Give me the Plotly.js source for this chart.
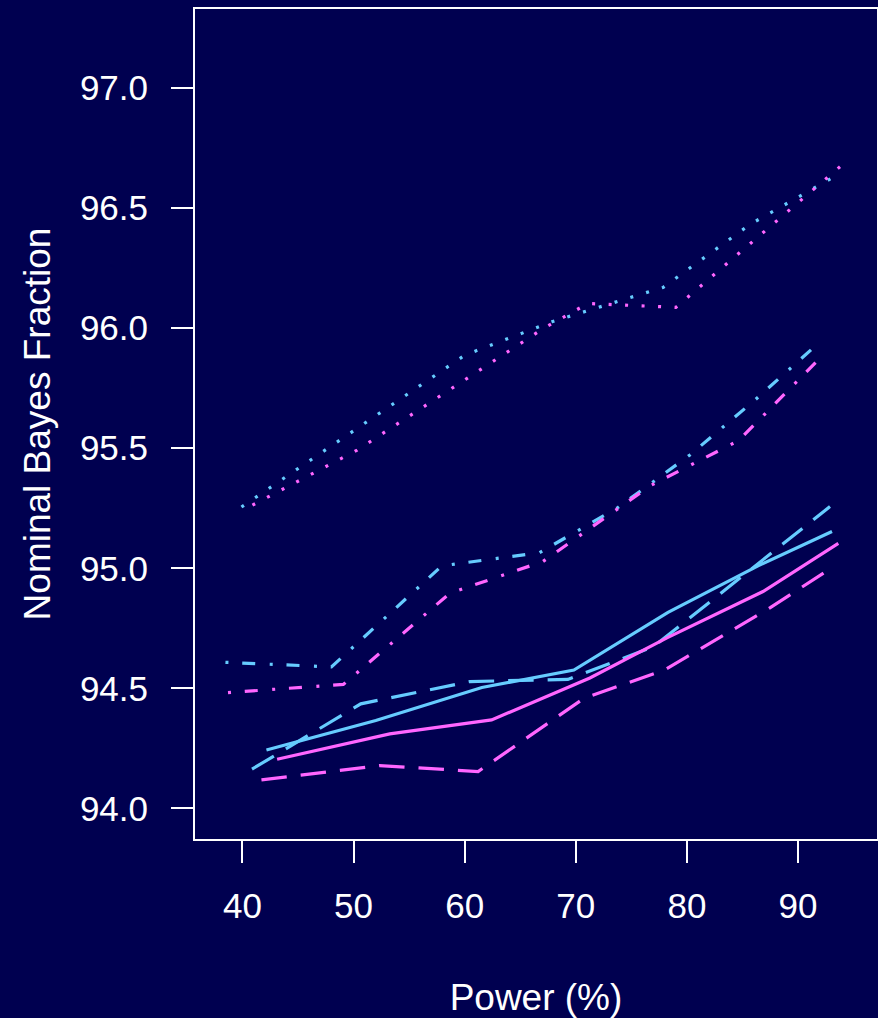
<!DOCTYPE html>
<html>
<head>
<meta charset="utf-8">
<script src="https://cdn.plot.ly/plotly-3.0.1.min.js"></script>
<style>
  html, body { margin: 0; padding: 0; background: #000050; }
  #chart { width: 878px; height: 1018px; }
</style>
</head>
<body>
<div id="chart"></div>
<script>
// Power (%) values and nominal Bayes fraction values
const cyanSolidX   = [42.16, 52.0, 61.55, 69.83, 78.3, 86.4, 93.06];
const cyanSolidY   = [94.243, 94.366, 94.503, 94.576, 94.816, 95.010, 95.153];
const magSolidX    = [43.12, 53.26, 62.42, 71.27, 78.2, 86.85, 93.63];
const magSolidY    = [94.204, 94.310, 94.368, 94.543, 94.71, 94.903, 95.104];

const cyanDashX    = [40.86, 50.65, 60.47, 69.29, 76.99, 92.88];
const cyanDashY    = [94.163, 94.435, 94.528, 94.537, 94.673, 95.257];
const magDashX     = [41.71, 52.36, 61.21, 70.73, 78.07, 87.47, 92.88];
const magDashY     = [94.118, 94.178, 94.153, 94.458, 94.578, 94.835, 94.997];

const cyanDotDashX = [38.47, 48.01, 57.95, 66.74, 73.79, 80.27, 86.13, 91.17];
const cyanDotDashY = [94.608, 94.589, 95.010, 95.065, 95.253, 95.472, 95.701, 95.910];
const magDotDashX  = [38.70, 49.08, 58.67, 67.04, 76.75, 84.66, 92.46];
const magDotDashY  = [94.482, 94.516, 94.896, 95.028, 95.345, 95.532, 95.898];

const cyanDotX     = [39.91, 60.02, 67.85, 77.85, 85.73, 93.21];
const cyanDotY     = [95.255, 95.888, 96.027, 96.170, 96.434, 96.630];
const magDotX      = [40.90, 50.32, 67.22, 71.09, 79.01, 93.93];
const magDotY      = [95.263, 95.492, 96.003, 96.103, 96.087, 96.679];

const xTicks = [40, 50, 60, 70, 80, 90];
const yTicks = [94.0, 94.5, 95.0, 95.5, 96.0, 96.5, 97.0];
const yTickText = ['94.0', '94.5', '95.0', '95.5', '96.0', '96.5', '97.0'];

const CYAN = '#66CCFF';
const MAG = '#FF66FF';
const BG = '#000050';
const FONT = '"Liberation Sans", Arial, Helvetica, sans-serif';

const DASHED = '25.5px,14px';
const DOTDASH = '3px,13.8px,13px,14.5px';
const DOTTED = '3px,13.5px';

function tr(x, y, color, dash) {
  return { x: x, y: y, type: 'scatter', mode: 'lines',
           line: { color: color, width: 3.2, dash: dash },
           hoverinfo: 'skip', showlegend: false };
}

const data = [
  tr(cyanSolidX, cyanSolidY, CYAN, 'solid'),
  tr(cyanDashX, cyanDashY, CYAN, DASHED),
  tr(cyanDotDashX, cyanDotDashY, CYAN, DOTDASH),
  tr(cyanDotX, cyanDotY, CYAN, DOTTED),
  tr(magSolidX, magSolidY, MAG, 'solid'),
  tr(magDashX, magDashY, MAG, DASHED),
  tr(magDotDashX, magDotDashY, MAG, DOTDASH),
  tr(magDotX, magDotY, MAG, DOTTED)
];

const layout = {
  width: 878, height: 1018,
  paper_bgcolor: BG, plot_bgcolor: BG,
  margin: { l: 195, r: 1, t: 9, b: 179, pad: 0 },
  font: { family: FONT, color: '#FFFFFF', size: 35 },
  xaxis: {
    range: [35.73, 97.11], autorange: false,
    tickvals: xTicks, ticktext: xTicks.map(String),
    ticks: 'outside', ticklen: 22, tickwidth: 2, tickcolor: '#FFFFFF',
    showgrid: false, zeroline: false,
    showline: true, mirror: true, linecolor: '#FFFFFF', linewidth: 2,
    tickfont: { family: FONT, size: 35, color: '#FFFFFF' },
    ticklabelstandoff: 13,
    title: { text: 'Power (%)', font: { family: FONT, size: 37, color: '#FFFFFF' }, standoff: 61 },
    automargin: false
  },
  yaxis: {
    range: [93.872, 97.330], autorange: false,
    tickvals: yTicks, ticktext: yTickText,
    ticks: 'outside', ticklen: 22, tickwidth: 2, tickcolor: '#FFFFFF',
    showgrid: false, zeroline: false,
    showline: true, mirror: true, linecolor: '#FFFFFF', linewidth: 2,
    tickfont: { family: FONT, size: 35, color: '#FFFFFF' },
    ticklabelstandoff: 16,
    title: { text: 'Nominal Bayes Fraction', font: { family: FONT, size: 37, color: '#FFFFFF' }, standoff: 18 },
    automargin: false
  }
};

Plotly.newPlot('chart', data, layout, { displayModeBar: false, staticPlot: true });
</script>
</body>
</html>
